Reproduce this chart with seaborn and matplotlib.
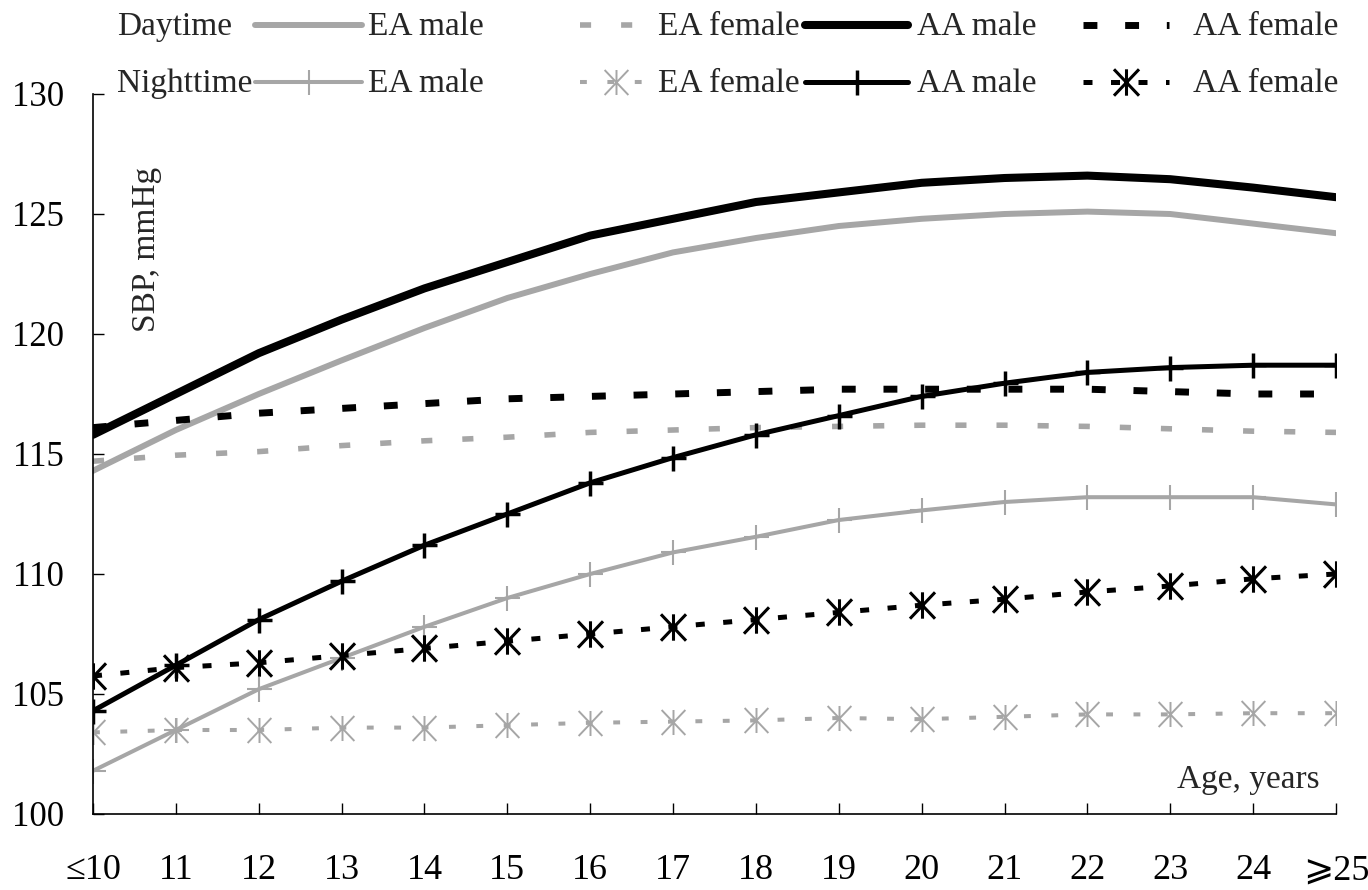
import numpy as np
import pandas as pd
import matplotlib.pyplot as plt
import seaborn as sns
from matplotlib.lines import Line2D
from matplotlib.path import Path

# Data (SBP, mmHg by age)
ages = list(range(10, 26))
age_labels = ["≤10"] + [str(a) for a in range(11, 25)] + ["⩾25"]

ea_male_day = [114.3, 116.0, 117.5, 118.9, 120.25, 121.5, 122.5, 123.4, 124.0, 124.5, 124.8, 125.0, 125.1, 125.0, 124.6, 124.2]
ea_female_day = [114.7, 114.95, 115.1, 115.35, 115.55, 115.7, 115.9, 116.0, 116.1, 116.15, 116.2, 116.2, 116.15, 116.05, 115.95, 115.9]
aa_male_day = [115.8, 117.5, 119.2, 120.6, 121.9, 123.0, 124.1, 124.8, 125.5, 125.9, 126.3, 126.5, 126.6, 126.45, 126.1, 125.7]
aa_female_day = [116.1, 116.4, 116.7, 116.9, 117.1, 117.3, 117.4, 117.5, 117.6, 117.7, 117.7, 117.7, 117.7, 117.6, 117.5, 117.5]

ea_male_night = [101.8, 103.5, 105.2, 106.5, 107.8, 109.0, 110.0, 110.9, 111.55, 112.25, 112.65, 113.0, 113.2, 113.2, 113.2, 112.9]
ea_female_night = [103.4, 103.5, 103.5, 103.6, 103.6, 103.7, 103.8, 103.85, 103.9, 104.0, 103.95, 104.05, 104.15, 104.15, 104.2, 104.2]
aa_male_night = [104.3, 106.2, 108.1, 109.7, 111.2, 112.5, 113.8, 114.85, 115.8, 116.6, 117.4, 117.95, 118.4, 118.6, 118.7, 118.7]
aa_female_night = [105.75, 106.1, 106.3, 106.6, 106.9, 107.2, 107.5, 107.8, 108.1, 108.4, 108.7, 108.95, 109.25, 109.5, 109.8, 110.0]

group_labels = ["EA male", "EA female", "AA male", "AA female"]

sns.set_style("ticks")
plt.rcParams["font.family"] = ["Liberation Serif", "DejaVu Serif", "DejaVu Sans"]

# asterisk marker: vertical bar plus an X
star = Path([(0, 1), (0, -1), (-0.95, 1), (0.95, -1), (-0.95, -1), (0.95, 1)],
            [Path.MOVETO, Path.LINETO, Path.MOVETO, Path.LINETO, Path.MOVETO, Path.LINETO])

grey = "#a6a6a6"
day_styles = [
    dict(color=grey, lw=4.3, ls="-"),
    dict(color=grey, lw=4.0, ls=(0, (2.0, 5.4))),
    dict(color="black", lw=5.8, ls="-"),
    dict(color="black", lw=5.0, ls=(0, (2.0, 4.0))),
]
night_styles = [
    dict(color=grey, lw=2.9, ls="-", marker="+", ms=18, mew=1.5),
    dict(color=grey, lw=2.9, ls=(0, (1.7, 5.1)), marker=star, ms=18, mew=1.4),
    dict(color="black", lw=3.6, ls="-", marker="+", ms=18, mew=2.5),
    dict(color="black", lw=3.6, ls=(0, (1.8, 3.7)), marker=star, ms=19, mew=2.2),
]

day_data = [ea_male_day, ea_female_day, aa_male_day, aa_female_day]
night_data = [ea_male_night, ea_female_night, aa_male_night, aa_female_night]

fig = plt.figure(figsize=(13.68, 8.9), dpi=100)
ax = fig.add_axes([93 / 1368, 1 - 814 / 890, (1336 - 93) / 1368, 720 / 890])


def line_kws(st):
    kws = dict(color=st["color"], linewidth=st["lw"], linestyle=st["ls"])
    if "marker" in st:
        kws.update(marker=st["marker"], markersize=st["ms"],
                   markeredgewidth=st["mew"], markeredgecolor=st["color"],
                   markerfacecolor="none")
    return kws


for vals, st in zip(day_data, day_styles):
    sns.lineplot(x=ages, y=vals, ax=ax, **line_kws(st))
for vals, st in zip(night_data, night_styles):
    sns.lineplot(x=ages, y=vals, ax=ax, **line_kws(st))

ax.set_xlim(10, 25)
ax.set_ylim(100, 130)
ax.set_xticks(ages)
ax.set_xticklabels(age_labels)
ax.set_yticks(range(100, 131, 5))
ax.tick_params(direction="in", length=8, width=1, colors="black")
ax.tick_params(axis="x", pad=29, labelsize=26)
ax.tick_params(axis="y", pad=21, labelsize=25)
sns.despine(ax=ax)
for sp in ["left", "bottom"]:
    ax.spines[sp].set_linewidth(1.2)
    ax.spines[sp].set_color("black")
ax.set_xlabel("")
ax.set_ylabel("")

ax.text((147 - 93) / 1243, (814 - 249) / 720, "SBP, mmHg", rotation=90,
        ha="center", va="center", fontsize=24, transform=ax.transAxes)
ax.text((1320 - 93) / 1243, (814 - 788) / 720, "Age, years",
        ha="right", va="baseline", fontsize=24, transform=ax.transAxes)

# legend laid out in two rows above the plot
label_x = [368, 658, 917, 1193]
handle_x = [(255, 362), (580, 652), (805, 908), (1083, 1169)]
rows = [("Daytime", day_styles, 35), ("Nighttime", night_styles, 92)]
for row_label, styles, base in rows:
    fig.text(117 / 1368, 1 - base / 890, row_label, fontsize=24,
             ha="left", va="baseline")
    hy = 1 - (base - 10) / 890
    for (x0, x1), lx, lab, st in zip(handle_x, label_x, group_labels, styles):
        kws = line_kws(st)
        if "marker" in kws:
            kws["markevery"] = [1]
        h = Line2D([x0 / 1368, (x0 + x1) / 2 / 1368, x1 / 1368], [hy, hy, hy],
                   transform=fig.transFigure, **kws)
        fig.add_artist(h)
        fig.text(lx / 1368, 1 - base / 890, lab, fontsize=24,
                 ha="left", va="baseline")

fig.savefig("out.png", dpi=100, facecolor="white")
